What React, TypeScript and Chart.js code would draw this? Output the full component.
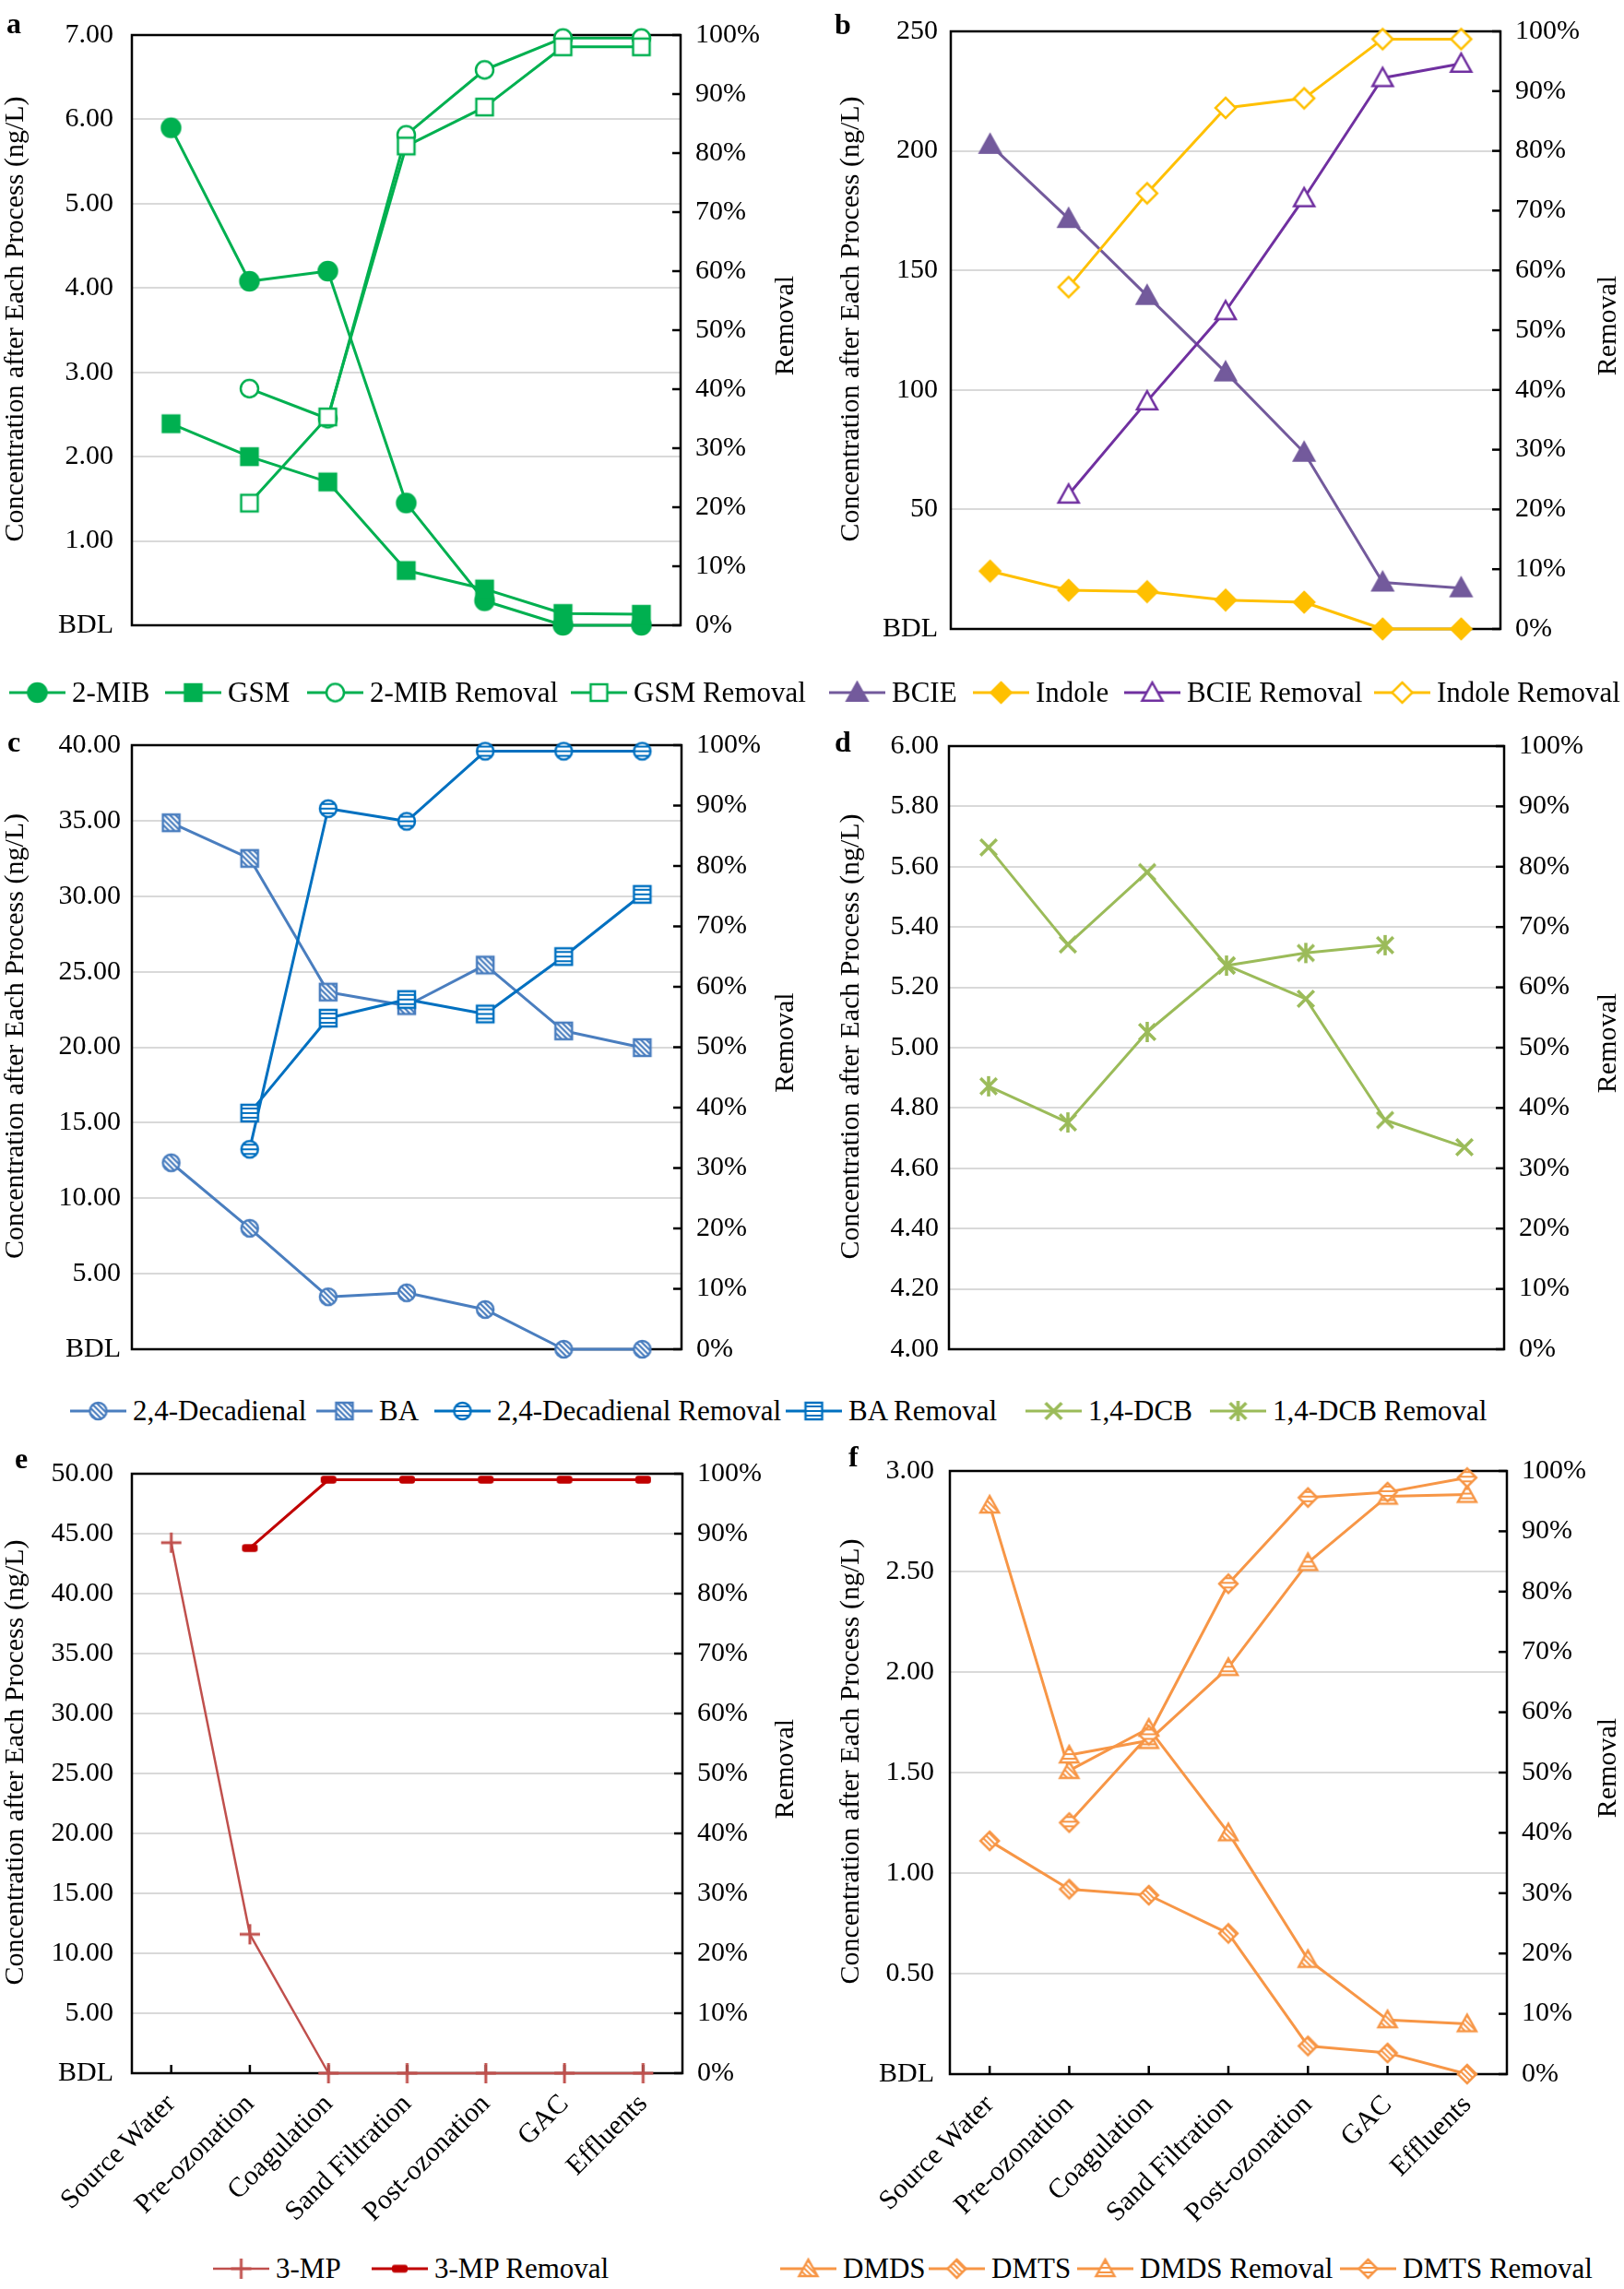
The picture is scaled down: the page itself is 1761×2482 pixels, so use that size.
import React, { useEffect, useRef } from 'react';
import { Chart, registerables } from 'chart.js';

Chart.register(...registerables);

const FONT = "'Liberation Serif', 'Times New Roman', serif";

const categories = ['Source Water', 'Pre-ozonation', 'Coagulation', 'Sand Filtration', 'Post-ozonation', 'GAC', 'Effluents'];

const leftTitle = 'Concentration after Each Process (ng/L)';
const rightTitle = 'Removal';

// Panel a (ng/L, %)
const mib2 = [5.9, 4.08, 4.2, 1.45, 0.29, 0, 0];
const gsm = [2.39, 2.0, 1.7, 0.65, 0.43, 0.14, 0.13];
const mib2Removal = [null, 40.1, 35.0, 83.1, 94.1, 99.5, 99.5];
const gsmRemoval = [null, 20.7, 35.3, 81.2, 87.8, 98.0, 98.0];

// Panel b
const bcie = [202.6, 171.6, 139.4, 107.4, 73.8, 19.5, 17.1];
const indole = [24.2, 16.2, 15.6, 12.1, 11.2, 0, 0];
const bcieRemoval = [null, 22.5, 38.1, 53.2, 72.1, 92.2, 94.6];
const indoleRemoval = [null, 57.2, 72.9, 87.2, 88.8, 98.7, 98.7];

// Panel c
const decadienal = [12.35, 8.01, 3.47, 3.74, 2.63, 0, 0];
const ba = [34.86, 32.5, 23.65, 22.75, 25.44, 21.08, 19.97];
const decadienalRemoval = [null, 33.1, 89.5, 87.4, 99.0, 99.0, 99.0];
const baRemoval = [null, 39.1, 54.8, 57.9, 55.5, 65.0, 75.3];

// Panel d
const dcb = [5.664, 5.342, 5.582, 5.273, 5.162, 4.76, 4.67];
const dcbRemoval = [43.6, 37.6, 52.6, 63.6, 65.7, 67.0, null];

// Panel e
const mp3 = [44.25, 11.59, 0, 0, 0, 0, 0];
const mp3Removal = [null, 87.6, 99.0, 99.0, 99.0, 99.0, 99.0];

// Panel f
const dmds = [2.83, 1.51, 1.72, 1.2, 0.57, 0.27, 0.25];
const dmts = [1.16, 0.92, 0.89, 0.7, 0.14, 0.105, 0];
const dmdsRemoval = [null, 52.9, 55.3, 67.4, 84.8, 95.8, 96.1];
const dmtsRemoval = [null, 41.7, 56.2, 81.3, 95.6, 96.5, 98.9];

type Marker = { shape: string; fill: string; color: string; size: number; lw?: number };
type Series = { label: string; data: (number | null)[]; axis: 'y' | 'y1'; color: string; lw: number; marker: Marker };

const markerCache = new Map<string, HTMLCanvasElement>();

function getMarker(m: Marker): HTMLCanvasElement {
  const key = JSON.stringify(m);
  const hit = markerCache.get(key);
  if (hit) return hit;
  const pad = 4;
  const S = Math.ceil(m.size + pad * 2);
  const cv = document.createElement('canvas');
  cv.width = S;
  cv.height = S;
  const ctx = cv.getContext('2d') as CanvasRenderingContext2D;
  const c = S / 2;
  const r = m.size / 2;
  const lw = m.lw ?? 2.5;
  const path = () => {
    ctx.beginPath();
    if (m.shape === 'circle') ctx.arc(c, c, r, 0, Math.PI * 2);
    else if (m.shape === 'square') ctx.rect(c - r, c - r, 2 * r, 2 * r);
    else if (m.shape === 'triangle') {
      ctx.moveTo(c, c - r);
      ctx.lineTo(c + r, c + r * 0.8);
      ctx.lineTo(c - r, c + r * 0.8);
      ctx.closePath();
    } else if (m.shape === 'diamond') {
      ctx.moveTo(c, c - r);
      ctx.lineTo(c + r, c);
      ctx.lineTo(c, c + r);
      ctx.lineTo(c - r, c);
      ctx.closePath();
    }
  };
  if (m.shape === 'crossRot' || m.shape === 'star' || m.shape === 'plus') {
    ctx.strokeStyle = m.color;
    ctx.lineWidth = lw;
    ctx.beginPath();
    if (m.shape !== 'plus') {
      const d = r * 0.8;
      ctx.moveTo(c - d, c - d);
      ctx.lineTo(c + d, c + d);
      ctx.moveTo(c + d, c - d);
      ctx.lineTo(c - d, c + d);
    }
    if (m.shape !== 'crossRot') {
      ctx.moveTo(c, c - r);
      ctx.lineTo(c, c + r);
    }
    if (m.shape === 'plus') {
      ctx.moveTo(c - r, c);
      ctx.lineTo(c + r, c);
    }
    ctx.stroke();
  } else if (m.shape === 'dash') {
    ctx.fillStyle = m.color;
    const w = m.size, h = m.size * 0.5, rr = 3;
    const x0 = c - w / 2, y0 = c - h / 2;
    ctx.beginPath();
    ctx.moveTo(x0 + rr, y0);
    ctx.lineTo(x0 + w - rr, y0);
    ctx.quadraticCurveTo(x0 + w, y0, x0 + w, y0 + rr);
    ctx.lineTo(x0 + w, y0 + h - rr);
    ctx.quadraticCurveTo(x0 + w, y0 + h, x0 + w - rr, y0 + h);
    ctx.lineTo(x0 + rr, y0 + h);
    ctx.quadraticCurveTo(x0, y0 + h, x0, y0 + h - rr);
    ctx.lineTo(x0, y0 + rr);
    ctx.quadraticCurveTo(x0, y0, x0 + rr, y0);
    ctx.fill();
  } else {
    path();
    if (m.fill === 'solid') {
      ctx.fillStyle = m.color;
      ctx.fill();
    } else if (m.fill === 'hatch' || m.fill === 'hatchLight' || m.fill === 'stripes') {
      ctx.fillStyle = m.fill === 'hatch' ? m.color : '#ffffff';
      ctx.fill();
      ctx.save();
      path();
      ctx.clip();
      ctx.strokeStyle = m.fill === 'hatch' ? '#ffffff' : m.color;
      ctx.lineWidth = 2;
      ctx.beginPath();
      if (m.fill === 'stripes') {
        for (let yy = c - r + 4; yy < c + r; yy += 5) {
          ctx.moveTo(0, yy);
          ctx.lineTo(S, yy);
        }
      } else {
        for (let k = -S; k < 2 * S; k += 6) {
          ctx.moveTo(k, 0);
          ctx.lineTo(k + S, S);
        }
      }
      ctx.stroke();
      ctx.restore();
    } else {
      ctx.fillStyle = '#ffffff';
      ctx.fill();
    }
    path();
    ctx.strokeStyle = m.color;
    ctx.lineWidth = lw;
    ctx.stroke();
  }
  markerCache.set(key, cv);
  return cv;
}

const GREEN = '#00B050';
const BCIE_C = '#735A9C';
const BCIE_R = '#7030A0';
const GOLD = '#FFC000';
const STEEL = '#4A7EBF';
const BLUE = '#0070C0';
const OLIVE = '#9BBB59';
const RED1 = '#C0504D';
const RED2 = '#C00000';
const ORANGE = '#F79646';

const sA: Series[] = [
  { label: '2-MIB', data: mib2, axis: 'y', color: GREEN, lw: 3, marker: { shape: 'circle', fill: 'solid', color: GREEN, size: 20 } },
  { label: 'GSM', data: gsm, axis: 'y', color: GREEN, lw: 3, marker: { shape: 'square', fill: 'solid', color: GREEN, size: 18 } },
  { label: '2-MIB Removal', data: mib2Removal, axis: 'y1', color: GREEN, lw: 3, marker: { shape: 'circle', fill: 'open', color: GREEN, size: 19 } },
  { label: 'GSM Removal', data: gsmRemoval, axis: 'y1', color: GREEN, lw: 3, marker: { shape: 'square', fill: 'open', color: GREEN, size: 18 } },
];
const sB: Series[] = [
  { label: 'BCIE', data: bcie, axis: 'y', color: BCIE_C, lw: 3, marker: { shape: 'triangle', fill: 'solid', color: BCIE_C, size: 22 } },
  { label: 'Indole', data: indole, axis: 'y', color: GOLD, lw: 3, marker: { shape: 'diamond', fill: 'solid', color: GOLD, size: 22 } },
  { label: 'BCIE Removal', data: bcieRemoval, axis: 'y1', color: BCIE_R, lw: 3, marker: { shape: 'triangle', fill: 'open', color: BCIE_R, size: 22 } },
  { label: 'Indole Removal', data: indoleRemoval, axis: 'y1', color: GOLD, lw: 3, marker: { shape: 'diamond', fill: 'open', color: GOLD, size: 22 } },
];
const sC: Series[] = [
  { label: '2,4-Decadienal', data: decadienal, axis: 'y', color: STEEL, lw: 3, marker: { shape: 'circle', fill: 'hatch', color: STEEL, size: 18 } },
  { label: 'BA', data: ba, axis: 'y', color: STEEL, lw: 3, marker: { shape: 'square', fill: 'hatch', color: STEEL, size: 18 } },
  { label: '2,4-Decadienal Removal', data: decadienalRemoval, axis: 'y1', color: BLUE, lw: 3, marker: { shape: 'circle', fill: 'stripes', color: BLUE, size: 18 } },
  { label: 'BA Removal', data: baRemoval, axis: 'y1', color: BLUE, lw: 3, marker: { shape: 'square', fill: 'stripes', color: BLUE, size: 18 } },
];
const sD: Series[] = [
  { label: '1,4-DCB', data: dcb, axis: 'y', color: OLIVE, lw: 3, marker: { shape: 'crossRot', fill: 'none', color: OLIVE, size: 22, lw: 3.5 } },
  { label: '1,4-DCB Removal', data: dcbRemoval, axis: 'y1', color: OLIVE, lw: 3, marker: { shape: 'star', fill: 'none', color: OLIVE, size: 22, lw: 3.5 } },
];
const sE: Series[] = [
  { label: '3-MP', data: mp3, axis: 'y', color: RED1, lw: 2.5, marker: { shape: 'plus', fill: 'none', color: RED1, size: 22, lw: 3 } },
  { label: '3-MP Removal', data: mp3Removal, axis: 'y1', color: RED2, lw: 3, marker: { shape: 'dash', fill: 'solid', color: RED2, size: 17 } },
];
const sF: Series[] = [
  { label: 'DMDS', data: dmds, axis: 'y', color: ORANGE, lw: 3, marker: { shape: 'triangle', fill: 'hatchLight', color: ORANGE, size: 20 } },
  { label: 'DMTS', data: dmts, axis: 'y', color: ORANGE, lw: 3, marker: { shape: 'diamond', fill: 'hatchLight', color: ORANGE, size: 20 } },
  { label: 'DMDS Removal', data: dmdsRemoval, axis: 'y1', color: ORANGE, lw: 3, marker: { shape: 'triangle', fill: 'stripes', color: ORANGE, size: 20 } },
  { label: 'DMTS Removal', data: dmtsRemoval, axis: 'y1', color: ORANGE, lw: 3, marker: { shape: 'diamond', fill: 'stripes', color: ORANGE, size: 20 } },
];

type Box = { left: number; top: number; width: number; height: number };
type Plot = { left: number; right: number; top: number; bottom: number };
type PanelSpec = {
  letter: string; lx: number; ly: number; box: Box; plot: Plot;
  yMin: number; yMax: number; yStep: number; dec: number; tickPad: number; xLabels: boolean; series: Series[];
};

const LEFT_BOX = (top: number, height: number): Box => ({ left: 0, top, width: 869, height });
const RIGHT_BOX = (top: number, height: number): Box => ({ left: 906, top, width: 855, height });

const panels: PanelSpec[] = [
  { letter: 'a', lx: 7, ly: 9, box: LEFT_BOX(0, 716), plot: { left: 143, right: 738, top: 32, bottom: 692 }, yMin: 0, yMax: 7, yStep: 1, dec: 2, tickPad: 20, xLabels: false, series: sA },
  { letter: 'b', lx: 905, ly: 10, box: RIGHT_BOX(0, 716), plot: { left: 1031, right: 1627, top: 32, bottom: 692 }, yMin: 0, yMax: 250, yStep: 50, dec: 0, tickPad: 14, xLabels: false, series: sB },
  { letter: 'c', lx: 8, ly: 788, box: LEFT_BOX(770, 727), plot: { left: 143, right: 739, top: 808, bottom: 1473 }, yMin: 0, yMax: 40, yStep: 5, dec: 2, tickPad: 12, xLabels: false, series: sC },
  { letter: 'd', lx: 905, ly: 788, box: RIGHT_BOX(770, 727), plot: { left: 1029, right: 1631, top: 809, bottom: 1472 }, yMin: 4, yMax: 6, yStep: 0.2, dec: 2, tickPad: 11, xLabels: false, series: sD },
  { letter: 'e', lx: 16, ly: 1565, box: LEFT_BOX(1560, 870), plot: { left: 143, right: 740, top: 1586, bottom: 2248 }, yMin: 0, yMax: 50, yStep: 5, dec: 2, tickPad: 20, xLabels: true, series: sE },
  { letter: 'f', lx: 920, ly: 1563, box: RIGHT_BOX(1560, 870), plot: { left: 1030, right: 1634, top: 1585, bottom: 2249 }, yMin: 0, yMax: 3, yStep: 0.5, dec: 2, tickPad: 17, xLabels: true, series: sF },
];

type LegendEntry = { s: Series; x: number; y: number };
const legendEntries: LegendEntry[] = [
  { s: sA[0], x: 10, y: 751 }, { s: sA[1], x: 179, y: 751 }, { s: sA[2], x: 333, y: 751 }, { s: sA[3], x: 619, y: 751 },
  { s: sB[0], x: 899, y: 751 }, { s: sB[1], x: 1055, y: 751 }, { s: sB[2], x: 1219, y: 751 }, { s: sB[3], x: 1490, y: 751 },
  { s: sC[0], x: 76, y: 1530 }, { s: sC[1], x: 343, y: 1530 }, { s: sC[2], x: 471, y: 1530 }, { s: sC[3], x: 852, y: 1530 },
  { s: sD[0], x: 1112, y: 1530 }, { s: sD[1], x: 1312, y: 1530 },
  { s: sE[0], x: 231, y: 2460 }, { s: sE[1], x: 403, y: 2460 },
  { s: sF[0], x: 846, y: 2460 }, { s: sF[1], x: 1007, y: 2460 }, { s: sF[2], x: 1168, y: 2460 }, { s: sF[3], x: 1453, y: 2460 },
];

const TITLE_FONT = `30px ${FONT}`;

const framePlugin = {
  id: 'frame',
  beforeDatasetsDraw(chart: any, _args: any, opts: any) {
    const { ctx, chartArea: a } = chart;
    ctx.save();
    ctx.strokeStyle = '#000000';
    ctx.lineWidth = 2.5;
    const y1 = chart.scales.y1;
    y1.ticks.forEach((_t: any, i: number) => {
      const y = y1.getPixelForTick(i);
      ctx.beginPath();
      ctx.moveTo(a.right, y);
      ctx.lineTo(a.right - 9, y);
      ctx.stroke();
    });
    if (opts && opts.xTicks) {
      const x = chart.scales.x;
      x.ticks.forEach((_t: any, i: number) => {
        const px = x.getPixelForTick(i);
        ctx.beginPath();
        ctx.moveTo(px, a.bottom);
        ctx.lineTo(px, a.bottom - 9);
        ctx.stroke();
      });
    }
    ctx.strokeRect(a.left, a.top, a.right - a.left, a.bottom - a.top);
    ctx.restore();
  },
  afterDraw(chart: any) {
    const { ctx, chartArea: a } = chart;
    const yl = chart.scales.y;
    const yr = chart.scales.y1;
    const cy = (a.top + a.bottom) / 2;
    ctx.save();
    ctx.fillStyle = '#000000';
    ctx.font = TITLE_FONT;
    ctx.textAlign = 'center';
    ctx.textBaseline = 'middle';
    ctx.save();
    ctx.translate(yl.left + 17, cy - 12);
    ctx.rotate(-Math.PI / 2);
    ctx.fillText(leftTitle, 0, 0);
    ctx.restore();
    ctx.save();
    ctx.translate(yr.right - 17, cy - 5);
    ctx.rotate(-Math.PI / 2);
    ctx.fillText(rightTitle, 0, 0);
    ctx.restore();
    ctx.restore();
  },
};

function makeConfig(p: PanelSpec): any {
  const tickFont = { family: FONT, size: 30 };
  return {
    type: 'line',
    data: {
      labels: categories,
      datasets: p.series.map((s, i) => ({
        label: s.label,
        data: s.data,
        yAxisID: s.axis,
        borderColor: s.color,
        backgroundColor: s.color,
        borderWidth: s.lw,
        borderJoinStyle: 'round',
        pointStyle: getMarker(s.marker),
        pointRadius: 10,
        pointHoverRadius: 10,
        tension: 0,
        spanGaps: false,
        clip: false,
        order: -i,
      })),
    },
    options: {
      responsive: false,
      animation: false,
      events: [],
      layout: { padding: { top: p.plot.top - p.box.top, left: 0, right: 0, bottom: 0 } },
      plugins: { legend: { display: false }, tooltip: { enabled: false }, frame: { xTicks: p.xLabels } },
      scales: {
        x: {
          type: 'category',
          offset: true,
          grid: { display: false, drawTicks: false },
          border: { display: false },
          ticks: {
            display: p.xLabels, minRotation: 45, maxRotation: 45, autoSkip: false, padding: 16,
            color: '#000000', font: tickFont,
          },
          afterFit: (sc: any) => { sc.height = p.box.top + p.box.height - p.plot.bottom; },
        },
        y: {
          type: 'linear',
          position: 'left',
          min: p.yMin,
          max: p.yMax,
          grid: { color: '#D9D9D9', lineWidth: 2, drawTicks: false },
          border: { display: false },
          ticks: {
            stepSize: p.yStep, padding: p.tickPad, color: '#000000', font: tickFont,
            callback: (v: number) => (Math.abs(v) < 1e-9 ? 'BDL' : Number(v).toFixed(p.dec)),
          },
          title: { display: false },
          afterFit: (sc: any) => { sc.width = p.plot.left - p.box.left; },
        },
        y1: {
          type: 'linear',
          position: 'right',
          min: 0,
          max: 100,
          grid: { display: false, drawTicks: false, drawOnChartArea: false },
          border: { display: false },
          ticks: { stepSize: 10, padding: 16, color: '#000000', font: tickFont, callback: (v: number) => `${Math.round(v)}%` },
          title: { display: false },
          afterFit: (sc: any) => { sc.width = p.box.left + p.box.width - p.plot.right; },
        },
      },
    },
    plugins: [framePlugin],
  };
}

function Panel({ p }: { p: PanelSpec }) {
  const ref = useRef<HTMLCanvasElement>(null);
  useEffect(() => {
    const chart = new Chart(ref.current as HTMLCanvasElement, makeConfig(p));
    return () => chart.destroy();
  }, [p]);
  return (
    <canvas
      ref={ref}
      width={p.box.width}
      height={p.box.height}
      style={{ position: 'absolute', left: p.box.left, top: p.box.top, width: p.box.width, height: p.box.height }}
    />
  );
}

function LegendIcon({ s }: { s: Series }) {
  const ref = useRef<HTMLCanvasElement>(null);
  useEffect(() => {
    const cv = ref.current as HTMLCanvasElement;
    const ctx = cv.getContext('2d') as CanvasRenderingContext2D;
    ctx.clearRect(0, 0, cv.width, cv.height);
    ctx.strokeStyle = s.color;
    ctx.lineWidth = s.lw;
    ctx.beginPath();
    ctx.moveTo(0, 15);
    ctx.lineTo(61, 15);
    ctx.stroke();
    const m = getMarker(s.marker);
    ctx.drawImage(m, 30.5 - m.width / 2, 15 - m.height / 2);
  }, [s]);
  return <canvas ref={ref} width={61} height={30} style={{ display: 'block', width: 61, height: 30 }} />;
}

export default function App() {
  return (
    <div style={{ position: 'absolute', left: 0, top: 0, width: 1761, height: 2482, background: '#ffffff', overflow: 'hidden', fontFamily: FONT }}>
      {panels.map((p) => (
        <Panel key={p.letter} p={p} />
      ))}
      {panels.map((p) => (
        <div key={`L${p.letter}`} style={{ position: 'absolute', left: p.lx, top: p.ly, fontSize: 32, lineHeight: '32px', fontWeight: 'bold', color: '#000' }}>
          {p.letter}
        </div>
      ))}
      {legendEntries.map((e) => (
        <div key={e.s.label} style={{ position: 'absolute', left: e.x, top: e.y - 18, height: 36, display: 'flex', alignItems: 'center', whiteSpace: 'nowrap' }}>
          <LegendIcon s={e.s} />
          <span style={{ marginLeft: 7, fontSize: 31, lineHeight: '36px', color: '#000' }}>{e.s.label}</span>
        </div>
      ))}
    </div>
  );
}
